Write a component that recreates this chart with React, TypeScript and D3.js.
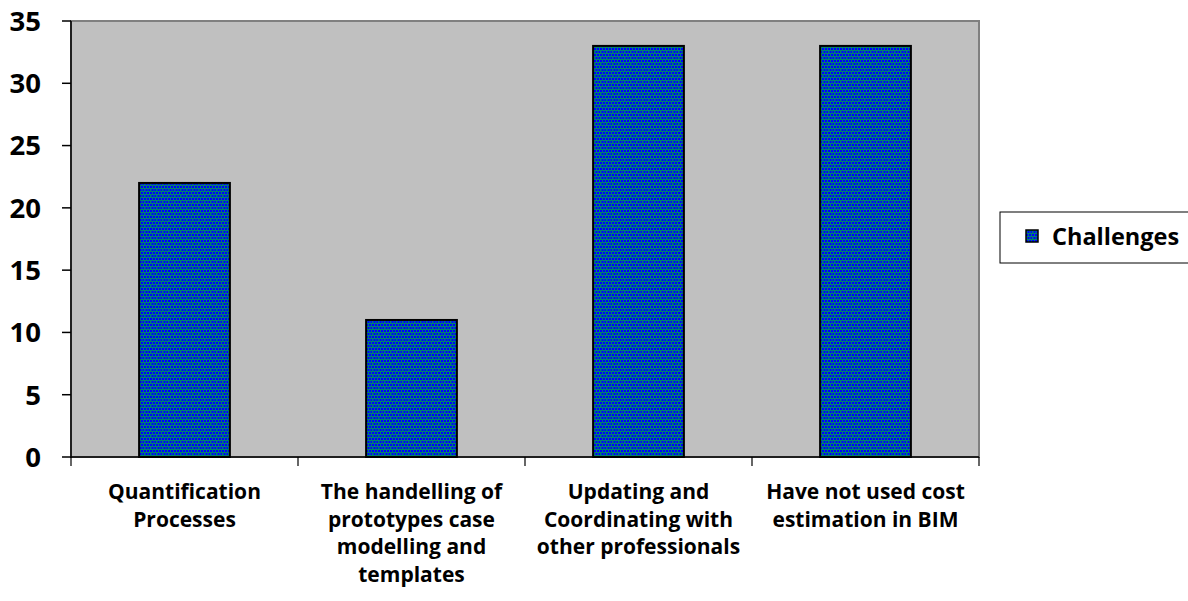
import React from "react";
import * as d3 from "d3";

const categories: string[][] = [
  ["Quantification", "Processes"],
  ["The handelling of", "prototypes case", "modelling and", "templates"],
  ["Updating and", "Coordinating with", "other professionals"],
  ["Have not used cost", "estimation in BIM"],
];
const values: number[] = [22, 11, 33, 33];
const yTicks: number[] = [0, 5, 10, 15, 20, 25, 30, 35];
const seriesName = "Challenges";

export default function App() {
  const W = 1188, H = 601;
  const left = 71, right = 979, top = 21, bottom = 457;
  const x = d3.scaleBand<number>().domain(d3.range(values.length)).range([left, right]).paddingInner(0).paddingOuter(0);
  const y = d3.scaleLinear().domain([0, 35]).range([bottom, top]);
  const bw = x.bandwidth() * 0.4;
  const font = "'Open Sans', sans-serif";
  return (
    <svg width={W} height={H} style={{ position: "absolute", left: 0, top: 0 }}>
      <defs>
        <pattern id="dots" width="6" height="6" patternUnits="userSpaceOnUse">
          <rect width="6" height="6" fill="#008070" />
          <rect x="0" y="0" width="2" height="2" fill="#0000ff" />
          <rect x="3" y="0" width="2" height="2" fill="#0000ff" />
          <rect x="1.5" y="3" width="2" height="2" fill="#0000ff" />
          <rect x="4.5" y="3" width="2" height="2" fill="#0000ff" />
        </pattern>
      </defs>
      <rect x={0} y={0} width={W} height={H} fill="#fff" />
      <rect x={left} y={top} width={right - left} height={bottom - top} fill="#c0c0c0" stroke="#808080" strokeWidth={2} />
      {values.map((v, i) => (
        <rect key={i} x={x(i)! + (x.bandwidth() - bw) / 2} y={y(v)} width={bw} height={bottom - y(v)}
          fill="url(#dots)" stroke="#000" strokeWidth={2} />
      ))}
      <line x1={left} x2={left} y1={top} y2={bottom + 1} stroke="#000" strokeWidth={1.5} />
      <line x1={left} x2={right} y1={bottom} y2={bottom} stroke="#000" strokeWidth={1.5} />
      {yTicks.map(t => (
        <g key={t}>
          <line x1={left - 9} x2={left} y1={y(t)} y2={y(t)} stroke="#000" strokeWidth={1.5} />
          <text x={41} y={y(t)} dy="0.36em" textAnchor="end" fontFamily={font} fontWeight="bold" fontSize={27.5}>{t}</text>
        </g>
      ))}
      {d3.range(values.length + 1).map(i => {
        const xx = i < values.length ? x(i)! : right;
        return <line key={i} x1={xx} x2={xx} y1={bottom} y2={bottom + 9} stroke="#000" strokeWidth={1.2} />;
      })}
      {categories.map((lines, i) => (
        <text key={i} textAnchor="middle" fontFamily={font} fontWeight="bold" fontSize={21}>
          {lines.map((l, j) => (
            <tspan key={j} x={x(i)! + x.bandwidth() / 2} y={499 + j * 27.5}>{l}</tspan>
          ))}
        </text>
      ))}
      <rect x={1000} y={212} width={200} height={51} fill="#fff" stroke="#000" strokeWidth={1} />
      <rect x={1026} y={230} width={12} height={12} fill="url(#dots)" stroke="#000" strokeWidth={1.5} />
      <text x={1052} y={237} dy="0.36em" fontFamily={font} fontWeight="bold" fontSize={23.5}>{seriesName}</text>
    </svg>
  );
}
